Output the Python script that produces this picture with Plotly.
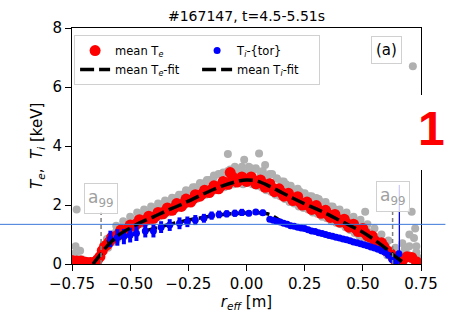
import plotly.graph_objects as go

# ---------------- data ----------------
title_text = "#167147, t=4.5-5.51s"
x_ticks = [-0.75, -0.5, -0.25, 0.0, 0.25, 0.5, 0.75]
x_ticklabels = ["\u22120.75", "\u22120.50", "\u22120.25", "0.00", "0.25", "0.50", "0.75"]
y_ticks = [0, 2, 4, 6, 8]

# raw Te measurements (grey cloud)
grey_x = [-0.745, -0.74, -0.735, -0.73, -0.725, -0.715, -0.705, -0.695, -0.68, -0.665, -0.65, -0.635, -0.62,
          -0.61, -0.6, -0.59, -0.58, -0.57, -0.56, -0.55, -0.54, -0.53, -0.52, -0.51, -0.5, -0.49, -0.48,
          -0.47, -0.46, -0.45, -0.44, -0.43, -0.42, -0.41, -0.4, -0.39, -0.38, -0.37, -0.36, -0.35, -0.34,
          -0.33, -0.32, -0.31, -0.3, -0.29, -0.28, -0.27, -0.26, -0.25, -0.24, -0.23, -0.22, -0.21, -0.2,
          -0.19, -0.18, -0.17, -0.16, -0.15, -0.14, -0.13, -0.12, -0.11, -0.1, -0.09, -0.08, -0.07, -0.06,
          -0.05, -0.04, -0.03, -0.02, -0.01, 0.0, 0.01, 0.02, 0.03, 0.04, 0.054, 0.06, 0.07, 0.08, 0.09,
          0.1, 0.11, 0.12, 0.13, 0.14, 0.15, 0.16, 0.17, 0.18, 0.19, 0.2, 0.21, 0.22, 0.23, 0.24, 0.25,
          0.26, 0.27, 0.28, 0.29, 0.3, 0.31, 0.32, 0.33, 0.34, 0.35, 0.36, 0.37, 0.38, 0.39, 0.4, 0.41,
          0.42, 0.43, 0.44, 0.45, 0.46, 0.47, 0.48, 0.49, 0.5, 0.51, 0.52, 0.53, 0.54, 0.55, 0.56, 0.57,
          0.58, 0.59, 0.6, 0.61, 0.62, 0.63, 0.64, 0.65, 0.66, 0.67, 0.68, 0.69, 0.7, 0.71, 0.715, 0.72,
          0.725, 0.73, 0.74,
          -0.595, -0.575, -0.555, -0.535, -0.515, -0.495, -0.475, -0.455, -0.435, -0.415, -0.395, -0.375,
          -0.355, -0.335, -0.315, -0.295, -0.275, -0.255, -0.235, -0.215, -0.195, -0.175, -0.155, -0.135,
          -0.115, -0.095, -0.075, -0.055, -0.035, -0.015, 0.005, 0.025, 0.045, 0.065, 0.085, 0.105, 0.125,
          0.145, 0.165, 0.185, 0.205, 0.225, 0.245, 0.265, 0.285, 0.305, 0.325, 0.345, 0.365, 0.385, 0.405,
          0.425, 0.445, 0.465, 0.485, 0.505, 0.525, 0.545, 0.565, 0.585, 0.605,
          -0.56, -0.53, -0.5, -0.47, -0.44, -0.41, -0.38, -0.35, -0.32, -0.29, -0.26, -0.23, -0.2, -0.17,
          -0.14, -0.11, -0.08, -0.05, -0.02, 0.01, 0.04, 0.07, 0.1, 0.13, 0.16, 0.19, 0.22, 0.25, 0.28,
          0.31, 0.34, 0.37, 0.4, 0.43, 0.46, 0.49, 0.52, 0.55, 0.58, 0.61, 0.64, 0.67, 0.7, 0.73]
grey_y = [0.05, 0.35, 0.6, 1.85, 0.2, 0.45, 0.15, 0.05, 0.1, 0.05, 0.12, 0.25, 0.45,
          0.6, 0.85, 0.75, 0.95, 0.8, 1.1, 0.95, 1.2, 1.05, 1.3, 1.15, 1.4, 1.25, 1.5,
          1.35, 1.6, 1.45, 1.65, 1.5, 1.75, 1.6, 1.85, 1.65, 1.9, 1.75, 2.0, 1.85, 2.1,
          1.9, 2.2, 2.0, 2.25, 2.05, 2.35, 2.15, 2.45, 2.2, 2.5, 2.3, 2.6, 2.4, 2.7,
          2.45, 2.75, 2.55, 2.85, 2.6, 2.95, 2.7, 3.05, 2.75, 3.1, 2.8, 3.73, 3.2, 2.85,
          3.3, 2.9, 3.15, 2.95, 3.53, 3.1, 2.9, 3.25, 2.85, 3.2, 3.75, 3.0, 2.8, 3.36, 2.95,
          2.75, 3.05, 2.6, 2.9, 2.5, 2.8, 2.45, 2.7, 2.35, 2.6, 2.3, 2.5, 2.2, 2.45, 2.1, 2.35,
          2.05, 2.3, 1.95, 2.2, 2.24, 1.9, 2.1, 1.8, 2.0, 1.75, 1.95, 1.65, 1.85, 1.55, 1.75, 1.5,
          1.65, 1.4, 1.55, 1.3, 1.45, 1.25, 1.4, 1.15, 1.3, 1.77, 1.1, 1.0, 0.95, 0.85, 0.9, 0.7,
          0.75, 0.55, 0.6, 0.4, 0.3, 0.2, 0.1, 0.05, 0.15, 0.3, 0.5, 0.35, 0.6, 1.77, 6.7, 0.88,
          1.2, 0.4, 0.2,
          0.55, 0.75, 0.85, 0.95, 1.05, 1.15, 1.25, 1.35, 1.4, 1.45, 1.5, 1.6,
          1.65, 1.75, 1.8, 1.9, 1.95, 2.05, 2.1, 2.2, 2.3, 2.35, 2.45, 2.5,
          2.55, 2.6, 2.65, 2.7, 2.75, 2.7, 2.75, 2.7, 2.65, 2.6, 2.5, 2.45, 2.35,
          2.3, 2.2, 2.1, 2.05, 1.95, 1.9, 1.85, 1.75, 1.7, 1.6, 1.55, 1.45, 1.4, 1.35,
          1.25, 1.15, 1.05, 0.95, 0.9, 0.8, 0.7, 0.6, 0.45, 0.3,
          1.3, 1.45, 1.6, 1.75, 1.85, 1.95, 2.05, 2.15, 2.25, 2.35, 2.5, 2.6, 2.75, 2.85,
          3.0, 3.05, 3.15, 3.25, 3.3, 3.3, 3.25, 3.15, 3.05, 2.9, 2.8, 2.65, 2.55, 2.4, 2.3,
          2.2, 2.1, 1.95, 1.85, 1.75, 1.6, 1.5, 1.35, 1.2, 1.0, 0.8, 0.55, 0.7, 1.0, 0.6]

# mean Te (red)
te_x = [-0.75, -0.73, -0.71, -0.69, -0.67, -0.65, -0.63, -0.61, -0.59, -0.57, -0.55, -0.53, -0.51, -0.49,
        -0.47, -0.45, -0.43, -0.41, -0.39, -0.37, -0.35, -0.33, -0.31, -0.29, -0.27, -0.25, -0.23, -0.21,
        -0.19, -0.17, -0.15, -0.13, -0.11, -0.09, -0.07, -0.05, -0.03, -0.01, 0.01, 0.03, 0.05, 0.07, 0.09,
        0.11, 0.13, 0.15, 0.17, 0.19, 0.21, 0.23, 0.25, 0.27, 0.29, 0.31, 0.33, 0.35, 0.37, 0.39, 0.41,
        0.43, 0.45, 0.47, 0.49, 0.51, 0.53, 0.55, 0.57, 0.59, 0.61, 0.63, 0.65, 0.67, 0.69, 0.71, 0.73,
        -0.64, -0.62, -0.6, -0.58, -0.56, -0.54, -0.52, -0.5, -0.48, -0.46, -0.44, -0.42, -0.4, -0.38,
        -0.36, -0.34, -0.32, -0.3, -0.28, -0.26, -0.24, -0.22, -0.2, -0.18, -0.16, -0.14, -0.12, -0.1,
        -0.08, -0.06, -0.04, -0.02, 0.0, 0.02, 0.04, 0.06, 0.08, 0.1, 0.12, 0.14, 0.16, 0.18, 0.2, 0.22,
        0.24, 0.26, 0.28, 0.3, 0.32, 0.34, 0.36, 0.38, 0.4, 0.42, 0.44, 0.46, 0.48, 0.5, 0.52, 0.54,
        0.56, 0.58, 0.6, 0.62, 0.64]
te_y = [0.12, 0.1, 0.1, 0.06, 0.05, 0.08, 0.25, 0.6, 0.75, 0.88, 1.0, 1.1, 1.2, 1.3,
        1.38, 1.45, 1.5, 1.55, 1.62, 1.72, 1.78, 1.85, 1.9, 1.98, 2.05, 2.12, 2.2, 2.3,
        2.38, 2.45, 2.52, 2.58, 2.65, 2.72, 3.1, 2.82, 2.85, 2.88, 2.86, 2.83, 2.8, 2.72, 2.65,
        2.58, 2.5, 2.42, 2.35, 2.27, 2.2, 2.1, 2.03, 1.97, 1.9, 1.83, 1.75, 1.68, 1.6, 1.52, 1.45,
        1.38, 1.28, 1.2, 1.12, 1.05, 0.92, 0.8, 0.7, 0.6, 0.42, 0.22, 0.08, 0.12, 0.25, 0.22, 0.08,
        0.15, 0.45, 0.65, 0.9, 0.95, 1.15, 1.12, 1.32, 1.3, 1.5, 1.45, 1.62, 1.55, 1.75,
        1.7, 1.9, 1.82, 2.05, 1.95, 2.2, 2.1, 2.35, 2.3, 2.5, 2.42, 2.65, 2.55, 2.8,
        2.7, 2.95, 2.78, 2.95, 2.8, 2.95, 2.72, 2.85, 2.6, 2.72, 2.45, 2.55, 2.3, 2.4, 2.15, 2.28,
        2.0, 2.1, 1.85, 1.98, 1.72, 1.82, 1.58, 1.68, 1.42, 1.52, 1.25, 1.35, 1.1, 1.2, 0.95, 0.95,
        0.7, 0.72, 0.45, 0.35, 0.12]

# Ti (blue) with error bars
ti_x = [-0.585, -0.555, -0.527, -0.5, -0.473, -0.435, -0.4, -0.367, -0.33, -0.288, -0.254, -0.22,
        -0.183, -0.15, -0.118, -0.085, -0.05, -0.02, 0.01, 0.04, 0.07,
        0.1, 0.115, 0.13, 0.145, 0.16, 0.175, 0.19, 0.205,
        0.22, 0.235, 0.25, 0.265, 0.28, 0.295, 0.31, 0.325, 0.34, 0.355, 0.37, 0.385, 0.4, 0.415, 0.43,
        0.445, 0.46, 0.475, 0.49, 0.505, 0.52, 0.535, 0.55, 0.565, 0.58, 0.595, 0.61, 0.625, 0.64, 0.655]
ti_y = [0.85, 0.9, 0.93, 0.98, 1.04, 1.12, 1.12, 1.25, 1.32, 1.38, 1.43, 1.49,
        1.55, 1.64, 1.68, 1.7, 1.72, 1.75, 1.72, 1.76, 1.74,
        1.52, 1.48, 1.45, 1.42, 1.38, 1.35, 1.3, 1.28,
        1.25, 1.22, 1.2, 1.16, 1.12, 1.1, 1.06, 1.03, 1.0, 0.97, 0.94, 0.91, 0.88, 0.85, 0.82,
        0.79, 0.75, 0.72, 0.69, 0.65, 0.62, 0.58, 0.54, 0.5, 0.45, 0.4, 0.3, 0.15, 0.08, 0.35]
ti_err = [0.28, 0.28, 0.26, 0.25, 0.26, 0.22, 0.22, 0.2, 0.2, 0.2, 0.18, 0.17,
          0.15, 0.14, 0.13, 0.12, 0.12, 0.12, 0.1, 0.1, 0.1,
          0.05, 0.05, 0.05, 0.05, 0.05, 0.05, 0.05, 0.05,
          0.05, 0.05, 0.05, 0.05, 0.05, 0.05, 0.05, 0.05, 0.05, 0.05, 0.05, 0.05, 0.05, 0.05, 0.05,
          0.05, 0.05, 0.05, 0.05, 0.05, 0.05, 0.05, 0.05, 0.05, 0.05, 0.05, 0.05, 0.05, 0.05, 0.1]
ti_spike_x = [0.657, 0.657]
ti_spike_y = [0.0, 2.68]

# fits
te_fit_x = [-0.66, -0.63, -0.6, -0.55, -0.5, -0.45, -0.4, -0.35, -0.3, -0.25, -0.2, -0.15, -0.1, -0.05,
            0.0, 0.05, 0.1, 0.15, 0.2, 0.25, 0.3, 0.35, 0.4, 0.45, 0.5, 0.55, 0.6, 0.64, 0.68]
te_fit_y = [0.0, 0.3, 0.6, 0.98, 1.22, 1.43, 1.6, 1.78, 1.95, 2.13, 2.32, 2.5, 2.66, 2.78,
            2.85, 2.8, 2.63, 2.43, 2.23, 2.04, 1.87, 1.68, 1.48, 1.28, 1.08, 0.82, 0.52, 0.25, 0.02]
ti_fit_x = [-0.6, -0.5, -0.4, -0.3, -0.2, -0.1, 0.0, 0.05, 0.1, 0.15, 0.2, 0.3, 0.4, 0.5, 0.6, 0.65]
ti_fit_y = [0.75, 0.98, 1.2, 1.4, 1.56, 1.68, 1.73, 1.74, 1.68, 1.45, 1.32, 1.08, 0.86, 0.66, 0.35, 0.05]

a99_left = -0.625
a99_right = 0.628

# ---------------- figure ----------------
FONT = "DejaVu Sans"
fig = go.Figure()

fig.add_trace(go.Scatter(x=grey_x, y=grey_y, mode="markers", showlegend=False,
                         marker=dict(color="#b0b0b0", size=8), hoverinfo="skip"))
fig.add_trace(go.Scatter(x=te_x, y=te_y, mode="markers", name="mean T<sub><i>e</i></sub>",
                         marker=dict(color="#ff0000", size=11), legendrank=1))
fig.add_trace(go.Scatter(x=ti_fit_x, y=ti_fit_y, mode="lines", name="mean T<sub><i>i</i></sub>-fit",
                         line=dict(color="black", width=3.5, dash="14px,5px"), line_shape="spline",
                         legendrank=4))
fig.add_trace(go.Scatter(x=ti_spike_x, y=ti_spike_y, mode="lines", showlegend=False,
                         line=dict(color="#0000ff", width=1.3)))
fig.add_trace(go.Scatter(x=ti_x, y=ti_y, mode="markers", name="T<sub><i>i</i></sub>-{tor}",
                         marker=dict(color="#0000ff", size=7),
                         error_y=dict(type="data", array=ti_err, color="#0000ff", thickness=4, width=0),
                         legendrank=2))
fig.add_trace(go.Scatter(x=te_fit_x, y=te_fit_y, mode="lines", name="mean T<sub><i>e</i></sub>-fit",
                         line=dict(color="black", width=3.5, dash="14px,5px"), line_shape="spline",
                         legendrank=3))

shapes = [
    dict(type="line", xref="x", yref="y", x0=a99_left, x1=a99_left, y0=0, y1=1.76,
         line=dict(color="#808080", width=1.5, dash="4px,3px"), layer="above"),
    dict(type="line", xref="x", yref="y", x0=a99_right, x1=a99_right, y0=0, y1=1.86,
         line=dict(color="#808080", width=1.5, dash="4px,3px"), layer="above"),
    # white patch behind overlay label
    dict(type="rect", xref="paper", yref="paper", x0=0.9975, x1=1.07, y0=0.398, y1=0.716,
         fillcolor="white", line=dict(width=0), layer="above"),
    # overlay horizontal blue line
    dict(type="line", xref="paper", yref="paper", x0=-0.21, x1=1.07, y0=0.168, y1=0.168,
         line=dict(color="#3c78d8", width=1), layer="above"),
]

annotations = [
    dict(text="a<sub>99</sub>", x=a99_left, y=2.22, xref="x", yref="y", showarrow=False,
         font=dict(family=FONT, size=17, color="#a0a0a0"), bgcolor="rgba(255,255,255,0.8)",
         bordercolor="#d0d0d0", borderwidth=1, borderpad=3),
    dict(text="a<sub>99</sub>", x=a99_right, y=2.3, xref="x", yref="y", showarrow=False,
         font=dict(family=FONT, size=17, color="#a0a0a0"), bgcolor="rgba(255,255,255,0.8)",
         bordercolor="#d0d0d0", borderwidth=1, borderpad=3),
    dict(text="(a)", x=0.601, y=7.25, xref="x", yref="y", showarrow=False,
         font=dict(family=FONT, size=15, color="black"), bgcolor="white",
         bordercolor="#d0d0d0", borderwidth=1, borderpad=4),
    dict(text="<b>1</b>", x=0.986, y=0.576, xref="paper", yref="paper", showarrow=False,
         xanchor="left", yanchor="middle",
         font=dict(family="Liberation Sans", size=48, color="#ff0000")),
    dict(text="<i>T<sub>e</sub></i>,  <i>T<sub>i</sub></i> [keV]", x=-0.1006, y=0.5,
         xref="paper", yref="paper", showarrow=False, textangle=-90,
         xanchor="center", yanchor="middle", font=dict(family=FONT, size=15, color="black")),
]

fig.update_layout(
    width=450, height=326,
    margin=dict(l=72, r=20, t=28, b=62),
    paper_bgcolor="white", plot_bgcolor="white",
    font=dict(family=FONT, color="black"),
    title=dict(text=title_text, x=0.5, xref="paper", y=1 - 16 / 326, yref="container",
               xanchor="center", yanchor="middle", font=dict(family=FONT, size=14)),
    xaxis=dict(range=[-0.75, 0.75], tickvals=x_ticks, ticktext=x_ticklabels,
               showgrid=False, zeroline=False, showline=True, mirror=True,
               linecolor="black", linewidth=1, ticks="outside", ticklen=6, tickcolor="black",
               tickfont=dict(size=15),
               title=dict(text="<i>r<sub>eff</sub></i> [m]", font=dict(size=15), standoff=4)),
    yaxis=dict(range=[0, 8], tickvals=y_ticks,
               showgrid=False, zeroline=False, showline=True, mirror=True,
               linecolor="black", linewidth=1, ticks="outside", ticklen=6, tickcolor="black",
               tickfont=dict(size=15)),
    legend=dict(x=0.006, y=0.97, xanchor="left", yanchor="top", orientation="h",
                entrywidth=77, entrywidthmode="pixels",
                bgcolor="white", bordercolor="#d0d0d0", borderwidth=1,
                font=dict(family=FONT, size=11.5), tracegroupgap=0, itemwidth=30),
    shapes=shapes, annotations=annotations,
)

fig.write_html("out.html")
